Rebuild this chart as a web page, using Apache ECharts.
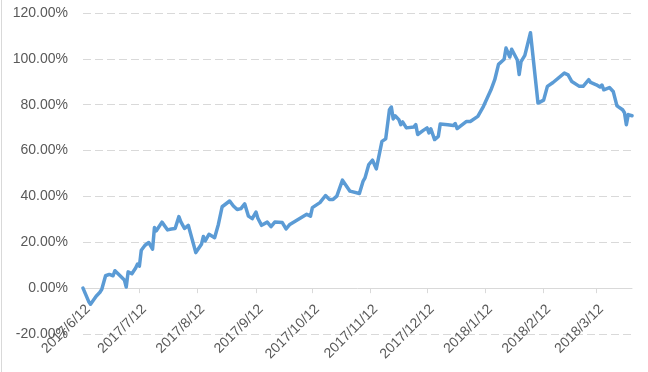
<!DOCTYPE html>
<html>
<head>
<meta charset="utf-8">
<script src="https://cdn.jsdelivr.net/npm/echarts@6/dist/echarts.min.js"></script>
<style>
html,body{margin:0;padding:0;background:#fff;}
#c{width:648px;height:372px;}
</style>
</head>
<body>
<div id="c"></div>
<script>
// Axis range (calendar days)
var startDate = '2017/6/12';
var endDate = '2018/3/31';
var yTicks = [-20, 0, 20, 40, 60, 80, 100, 120];

// Read-off points: dates and cumulative return (%)
var dates = [
 '2017/6/12','2017/6/13','2017/6/15','2017/6/16','2017/6/19','2017/6/21','2017/6/22','2017/6/24','2017/6/26','2017/6/27',
 '2017/6/28','2017/6/29','2017/7/2','2017/7/4','2017/7/5','2017/7/6','2017/7/8','2017/7/10','2017/7/11','2017/7/12',
 '2017/7/13','2017/7/15','2017/7/17','2017/7/18','2017/7/19','2017/7/20','2017/7/21','2017/7/24','2017/7/27','2017/7/29',
 '2017/7/31','2017/8/2','2017/8/3','2017/8/5','2017/8/7','2017/8/8','2017/8/11','2017/8/14','2017/8/15','2017/8/16',
 '2017/8/18','2017/8/21','2017/8/23','2017/8/24','2017/8/25','2017/8/26','2017/8/29','2017/8/31','2017/9/2','2017/9/4',
 '2017/9/6','2017/9/8','2017/9/10','2017/9/12','2017/9/13','2017/9/15','2017/9/18','2017/9/20','2017/9/22','2017/9/26',
 '2017/9/28','2017/9/30','2017/10/9','2017/10/11','2017/10/12','2017/10/16','2017/10/17','2017/10/19','2017/10/21','2017/10/23',
 '2017/10/25','2017/10/28','2017/11/1','2017/11/2','2017/11/6','2017/11/8','2017/11/9','2017/11/11','2017/11/13','2017/11/15',
 '2017/11/18','2017/11/20','2017/11/22','2017/11/23','2017/11/24','2017/11/25','2017/11/27','2017/11/28','2017/11/29','2017/12/1',
 '2017/12/5','2017/12/6','2017/12/7','2017/12/10','2017/12/12','2017/12/13','2017/12/14','2017/12/16','2017/12/18','2017/12/19',
 '2017/12/23','2017/12/26','2017/12/27','2017/12/28','2018/1/2','2018/1/4','2018/1/8','2018/1/11','2018/1/13','2018/1/15',
 '2018/1/17','2018/1/19','2018/1/22','2018/1/23','2018/1/25','2018/1/26','2018/1/29','2018/1/30','2018/1/31','2018/2/2',
 '2018/2/5','2018/2/9','2018/2/12','2018/2/14','2018/2/17','2018/2/23','2018/2/25','2018/2/27','2018/3/3','2018/3/5',
 '2018/3/8','2018/3/9','2018/3/12','2018/3/14','2018/3/15','2018/3/16','2018/3/19','2018/3/21','2018/3/23','2018/3/26',
 '2018/3/27','2018/3/28','2018/3/29','2018/3/31'
];
var values = [
 0.0,-0.3,-5.8,-7.0,-3.5,-1.8,-0.5,5.4,6.0,6.6,
 5.4,7.6,5.2,3.6,0.5,7.1,6.3,8.8,10.5,9.6,
 16.5,18.7,19.9,20.4,17.0,26.4,25.0,28.8,25.4,25.8,
 26.0,31.2,29.0,26.0,27.4,26.8,15.5,19.1,22.5,20.6,
 23.5,22.0,27.8,27.2,35.5,36.3,38.0,35.8,34.3,34.7,
 36.8,31.4,30.3,33.2,30.5,27.4,28.8,26.8,28.8,28.6,
 25.8,27.8,32.2,31.4,35.1,37.3,36.5,40.4,38.7,38.7,
 40.1,47.1,42.3,42.7,41.3,46.7,48.1,53.9,55.8,52.0,
 64.0,65.1,77.8,79.0,73.8,75.2,73.5,71.3,72.5,69.9,
 70.3,71.3,67.0,68.8,69.9,67.7,69.5,64.8,66.2,71.6,
 71.3,70.9,71.8,69.6,72.7,72.7,74.9,79.3,82.9,86.5,
 90.9,97.6,99.8,104.7,100.8,104.2,99.5,93.2,98.8,101.5,
 111.4,80.7,82.0,88.0,89.7,93.8,93.0,90.1,88.0,88.0,
 90.9,89.7,88.7,87.7,88.6,86.5,87.5,85.8,79.5,77.8,
 76.5,71.3,75.7,75.2
];

function fmt(d){return d.getFullYear()+'/'+(d.getMonth()+1)+'/'+d.getDate();}
var categories = [];
(function(){
  var p = startDate.split('/'), q = endDate.split('/');
  var d = new Date(+p[0], +p[1]-1, +p[2]);
  var e = new Date(+q[0], +q[1]-1, +q[2]);
  while (d <= e) { categories.push(fmt(d)); d = new Date(d.getFullYear(), d.getMonth(), d.getDate()+1); }
})();

var seriesData = dates.map(function(d,i){return [d, values[i]];});
function isTickDay(idx, val){ return String(val).split('/')[2] === '12'; }

var gridTop = 13, gridBottom = 38, H = 372;
var plotH = H - gridTop - gridBottom;
var zeroOffset = -plotH * (0 - yTicks[0]) / (yTicks[yTicks.length-1] - yTicks[0]);

var chart = echarts.init(document.getElementById('c'), null, {renderer:'canvas'});
chart.setOption({
  animation:false,
  backgroundColor:'#ffffff',
  grid:{left:83, right:16, top:gridTop, bottom:gridBottom, containLabel:false, outerBoundsMode:'none'},
  graphic:[{type:'line', shape:{x1:1.5,y1:0,x2:1.5,y2:372}, style:{stroke:'#d9d9d9', lineWidth:1}, silent:true}],
  xAxis:{
    type:'category',
    data:categories,
    boundaryGap:false,
    offset:zeroOffset,
    axisLine:{show:true, onZero:false, lineStyle:{color:'#d9d9d9', width:1}},
    axisTick:{show:true, interval:isTickDay, length:5, lineStyle:{color:'#d9d9d9'}},
    axisLabel:{interval:isTickDay, rotate:45, margin:14, align:'right', verticalAlign:'top',
      color:'#595959', fontSize:14, fontFamily:'Liberation Sans, Arial, sans-serif'},
    splitLine:{show:false}
  },
  yAxis:{
    type:'value',
    min:yTicks[0], max:yTicks[yTicks.length-1], interval:20,
    axisLine:{show:false},
    axisTick:{show:false},
    axisLabel:{margin:15, color:'#595959', fontSize:14, fontFamily:'Liberation Sans, Arial, sans-serif',
      formatter:function(v){return v.toFixed(2)+'%';}},
    splitLine:{show:true, lineStyle:{color:'#d9d9d9', width:1, type:[8,4]}}
  },
  series:[{
    type:'line',
    data:seriesData,
    showSymbol:false,
    smooth:false,
    lineStyle:{color:'#5b9bd5', width:3.5, join:'round', cap:'round'},
    itemStyle:{color:'#5b9bd5'}
  }]
});
</script>
</body>
</html>
